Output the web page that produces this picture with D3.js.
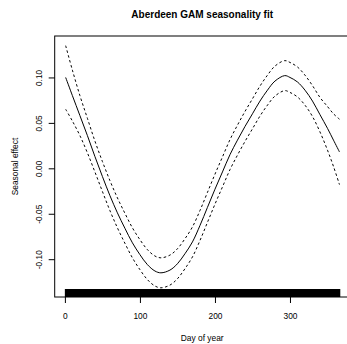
<!DOCTYPE html>
<html>
<head>
<meta charset="utf-8">
<script src="https://cdn.jsdelivr.net/npm/d3@7"></script>
<style>
  html, body { margin: 0; padding: 0; background: #fff; }
  svg { display: block; }
  text { font-family: "Liberation Sans", Arial, Helvetica, sans-serif; fill: #000; }
</style>
</head>
<body>
<svg id="chart" width="347" height="344"></svg>
<script>
// ---- data ----
const days  = [1, 10, 20, 30, 40, 50, 60, 70, 80, 90, 100, 110, 120, 128, 140, 150, 160, 170, 180, 190, 200, 210, 220, 230, 240, 250, 260, 270, 280, 293, 300, 310, 320, 330, 340, 350, 358, 366];
const fit   = [0.100, 0.080, 0.058, 0.036, 0.013, -0.009, -0.030, -0.049, -0.066, -0.082, -0.095, -0.106, -0.113, -0.115, -0.112, -0.105, -0.094, -0.081, -0.063, -0.043, -0.023, -0.004, 0.015, 0.031, 0.046, 0.060, 0.074, 0.086, 0.096, 0.102, 0.100, 0.095, 0.086, 0.074, 0.059, 0.044, 0.031, 0.018];
const upper = [0.135, 0.108, 0.080, 0.055, 0.030, 0.0075, -0.0135, -0.0325, -0.0495, -0.0655, -0.0785, -0.0895, -0.0965, -0.0985, -0.0955, -0.0885, -0.0775, -0.0645, -0.0465, -0.0265, -0.0065, 0.0125, 0.0315, 0.0475, 0.0625, 0.0765, 0.0905, 0.1025, 0.1125, 0.1185, 0.1165, 0.1115, 0.1025, 0.091, 0.078, 0.068, 0.060, 0.054];
const lower = [0.065, 0.052, 0.036, 0.017, -0.004, -0.0255, -0.0465, -0.0655, -0.0825, -0.0985, -0.1115, -0.1225, -0.1295, -0.1315, -0.1285, -0.1215, -0.1105, -0.0975, -0.0795, -0.0595, -0.0395, -0.0205, -0.0015, 0.0145, 0.0295, 0.0435, 0.0575, 0.0695, 0.0795, 0.0855, 0.0835, 0.0785, 0.0695, 0.057, 0.040, 0.020, 0.002, -0.018];
const rugDays = d3.range(1, 367);            // observations on every day of the year
const xTicks = [0, 100, 200, 300];
const yTicks = [-0.10, -0.05, 0.00, 0.05, 0.10];
const titleText = "Aberdeen GAM seasonality fit";
const xLabel = "Day of year";
const yLabel = "Seasonal effect";

// ---- layout ----
const svg = d3.select("#chart");
const plotLeft = 54.7, plotRight = 349.7, plotTop = 36, plotBottom = 297;

const x = d3.scaleLinear().domain([-13.6, 379.6]).range([plotLeft, plotRight]);
const y = d3.scaleLinear().domain([-0.1416, 0.1456]).range([plotBottom, plotTop]);

// rug
svg.append("g").selectAll("line").data(rugDays).join("line")
  .attr("x1", d => x(d)).attr("x2", d => x(d))
  .attr("y1", plotBottom).attr("y2", plotBottom - 8)
  .attr("stroke", "#000").attr("stroke-width", 1.6);

const pts = (vals) => days.map((d, i) => [d, vals[i]]);
const line = d3.line().x(d => x(d[0])).y(d => y(d[1])).curve(d3.curveCatmullRom.alpha(0.5));

svg.append("path").attr("d", line(pts(fit)))
  .attr("fill", "none").attr("stroke", "#000").attr("stroke-width", 1);
[upper, lower].forEach(v => {
  svg.append("path").attr("d", line(pts(v)))
    .attr("fill", "none").attr("stroke", "#000").attr("stroke-width", 1)
    .attr("stroke-dasharray", "2.5,2.5");
});

// box
svg.append("rect")
  .attr("x", plotLeft).attr("y", plotTop)
  .attr("width", plotRight - plotLeft).attr("height", plotBottom - plotTop)
  .attr("fill", "none").attr("stroke", "#000").attr("stroke-width", 1);

// x axis
const xAxis = d3.axisBottom(x).tickValues(xTicks).tickSize(6).tickPadding(8).tickFormat(d3.format("d"));
const gx = svg.append("g").attr("transform", `translate(0,${plotBottom})`).call(xAxis);
gx.select(".domain").remove();
gx.selectAll("text").attr("font-size", "8.4px").attr("fill", "#000")
  .attr("font-family", "Liberation Sans, Arial, sans-serif")
  .attr("dy", null).attr("y", 22);

// y axis
const yAxis = d3.axisLeft(y).tickValues(yTicks).tickSize(6).tickFormat(d3.format(".2f"));
const gy = svg.append("g").attr("transform", `translate(${plotLeft},0)`).call(yAxis);
gy.select(".domain").remove();
gy.selectAll("text").remove();
gy.selectAll(".tick").append("text")
  .attr("transform", "translate(-12.7,0) rotate(-90)")
  .attr("text-anchor", "middle")
  .attr("font-size", "8.4px")
  .attr("font-family", "Liberation Sans, Arial, sans-serif")
  .attr("fill", "#000")
  .text(d => d3.format(".2f")(d).replace("\u2212", "-"));

// title and labels
svg.append("text").attr("x", (plotLeft + plotRight) / 2).attr("y", 17.5)
  .attr("text-anchor", "middle").attr("font-weight", "bold").attr("font-size", "10px")
  .text(titleText);
svg.append("text").attr("x", (plotLeft + plotRight) / 2).attr("y", 341)
  .attr("text-anchor", "middle").attr("font-size", "8.4px").text(xLabel);
svg.append("text").attr("transform", `translate(18,${(plotTop + plotBottom) / 2}) rotate(-90)`)
  .attr("text-anchor", "middle").attr("font-size", "8.4px").text(yLabel);
</script>
</body>
</html>
